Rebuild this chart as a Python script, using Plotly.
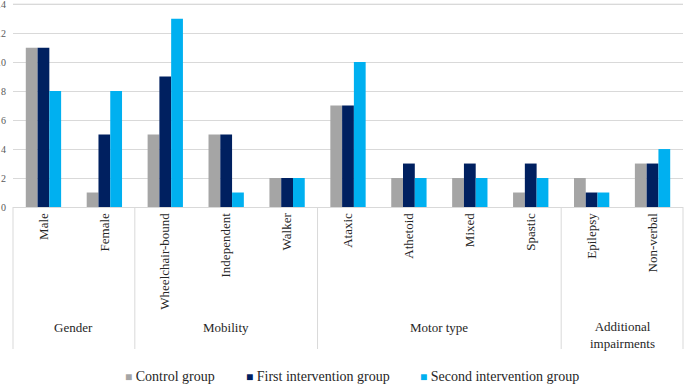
import plotly.graph_objects as go

categories = ["Male", "Female", "Wheelchair-bound", "Independent", "Walker",
              "Ataxic", "Athetoid", "Mixed", "Spastic", "Epilepsy", "Non-verbal"]
groups = ["Gender", "Mobility", "Motor type", "Additional<br>impairments"]
group_sizes = [2, 3, 4, 2]
y_ticks = [0, 2, 4, 6, 8, 10, 12, 14]

control = [11, 1, 5, 5, 2, 7, 2, 2, 1, 2, 3]
first_int = [11, 5, 9, 5, 2, 7, 3, 3, 3, 1, 3]
second_int = [8, 8, 13, 1, 2, 10, 2, 2, 2, 1, 4]

series = [
    ("Control group", control, "#A5A5A5"),
    ("First intervention group", first_int, "#002060"),
    ("Second intervention group", second_int, "#00B0F0"),
]

FONT = "Liberation Serif, Times New Roman, serif"
GRID = "#D9D9D9"

fig = go.Figure()
for name, vals, col in series:
    fig.add_trace(go.Bar(x=categories, y=vals, name=name, marker_color=col,
                         marker_line_width=0, showlegend=False))

W, H = 685, 385
ml, mr, mt, mb = 13, 2, 2, 178
pw = W - ml - mr
ph = H - mt - mb
ymax = max(y_ticks) + 0.15

def py(pix):
    return (H - mb - pix) / ph

def px(pix):
    return (pix - ml) / pw

n = len(categories)
shapes = []
annotations = []
start = 0
bounds = [0]
for s in group_sizes:
    start += s
    bounds.append(start)
for b in bounds:
    xp = b / n
    shapes.append(dict(type="line", xref="paper", yref="paper", x0=xp, x1=xp,
                       y0=0, y1=py(349), line=dict(color=GRID, width=1)))
# ensure the top gridline (at the highest tick) is drawn
shapes.append(dict(type="line", xref="paper", yref="y", x0=0, x1=1,
                   y0=max(y_ticks), y1=max(y_ticks),
                   line=dict(color=GRID, width=1), layer="below"))
for i, g in enumerate(groups):
    xc = (bounds[i] + bounds[i + 1]) / 2 / n
    ypix = 334.5 if "<br>" in g else 327
    annotations.append(dict(text=g, xref="paper", yref="paper", x=xc,
                            y=py(ypix), showarrow=False, xanchor="center",
                            yanchor="middle",
                            font=dict(family=FONT, size=13, color="#262626")))

# custom legend
legend_x = [123, 244, 418]
for (name, vals, col), lx in zip(series, legend_x):
    annotations.append(dict(
        text=f"<span style='color:{col};font-size:12px'>■</span> {name}",
        xref="paper", yref="paper", x=px(lx), y=py(377), showarrow=False,
        xanchor="left", yanchor="middle",
        font=dict(family=FONT, size=14, color="#262626")))

fig.update_layout(
    width=W, height=H,
    margin=dict(l=ml, r=mr, t=mt, b=mb, autoexpand=False),
    paper_bgcolor="white", plot_bgcolor="white",
    barmode="group", bargap=0.42, bargroupgap=0,
    font=dict(family=FONT, color="#262626"),
    shapes=shapes, annotations=annotations,
    showlegend=False,
)
fig.update_xaxes(type="category", tickangle=-90, showline=True,
                 linecolor=GRID, linewidth=1, ticks="", automargin=False,
                 tickfont=dict(family=FONT, size=13, color="#262626"),
                 showgrid=False)
fig.update_yaxes(range=[0, ymax], tickvals=y_ticks,
                 showgrid=True, gridcolor=GRID,
                 gridwidth=1, zeroline=False, automargin=False,
                 ticklabeloverflow="allow",
                 tickfont=dict(family=FONT, size=10, color="#595959"),
                 ticklabelstandoff=6)

fig.write_html("out.html", config={"displayModeBar": False},
               post_script="document.body.style.margin='0';")
